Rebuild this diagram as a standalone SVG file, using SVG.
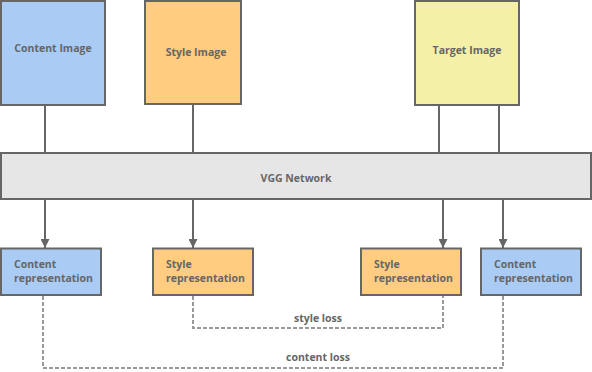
<svg xmlns="http://www.w3.org/2000/svg" width="592" height="372" viewBox="0 0 592 372">
<defs>
<style>
.box{stroke:#666666;stroke-width:2}
.blue{fill:#A9CBF4}
.orange{fill:#FFCC80}
.yellow{fill:#F4F0A8}
.gray{fill:#E6E6E6}
text{font-family:"Open Sans","DejaVu Sans",sans-serif;font-size:10.5px;font-weight:700;fill:#666666}
.c{text-anchor:middle}
.line{stroke:#666666;stroke-width:2;fill:none}
.dash{stroke:#999999;stroke-width:2;fill:none;stroke-dasharray:4 2}
</style>
<marker id="arr" viewBox="0 0 10 10" refX="10" refY="5" markerWidth="4.5" markerHeight="4.5" orient="auto" markerUnits="strokeWidth">
<path d="M0,0 L10,5 L0,10 Z" fill="#666666"/>
</marker>
</defs>
<g id="connectors">
<line class="line" x1="45" y1="105" x2="45" y2="153"/>
<line class="line" x1="193" y1="105" x2="193" y2="153"/>
<line class="line" x1="439" y1="105" x2="439" y2="153"/>
<line class="line" x1="499" y1="105" x2="499" y2="153"/>
<line class="line" x1="45" y1="199" x2="45" y2="248" marker-end="url(#arr)"/>
<line class="line" x1="193" y1="199" x2="193" y2="248" marker-end="url(#arr)"/>
<line class="line" x1="443" y1="199" x2="443" y2="248" marker-end="url(#arr)"/>
<line class="line" x1="503" y1="199" x2="503" y2="248" marker-end="url(#arr)"/>
<path class="dash" d="M193,296 V328 H443 V296"/>
<path class="dash" d="M43,296 V368 H503 V296"/>
<text class="c" x="318" y="322">style loss</text>
<text class="c" x="318" y="361">content loss</text>
</g>
<g id="content-image">
<rect class="box blue" x="1" y="1" width="104" height="104"/>
<text class="c" x="53" y="52">Content Image</text>
</g>
<g id="style-image">
<rect class="box orange" x="145" y="1" width="96" height="103"/>
<text class="c" x="196" y="56">Style Image</text>
</g>
<g id="target-image">
<rect class="box yellow" x="415" y="1" width="104" height="104"/>
<text class="c" x="467" y="54">Target Image</text>
</g>
<g id="vgg">
<rect class="box gray" x="1" y="153" width="590" height="46"/>
<text class="c" x="296" y="182">VGG Network</text>
</g>
<g id="content-rep-1">
<rect class="box blue" x="1" y="248.5" width="100" height="46.5"/>
<text x="14" y="268">Content</text>
<text x="14" y="282">representation</text>
</g>
<g id="style-rep-1">
<rect class="box orange" x="153" y="248.5" width="100" height="46.5"/>
<text x="166" y="268">Style</text>
<text x="166" y="282">representation</text>
</g>
<g id="style-rep-2">
<rect class="box orange" x="361" y="248.5" width="100" height="46.5"/>
<text x="374" y="268">Style</text>
<text x="374" y="282">representation</text>
</g>
<g id="content-rep-2">
<rect class="box blue" x="481" y="248.5" width="100" height="46.5"/>
<text x="494" y="268">Content</text>
<text x="494" y="282">representation</text>
</g>
</svg>
